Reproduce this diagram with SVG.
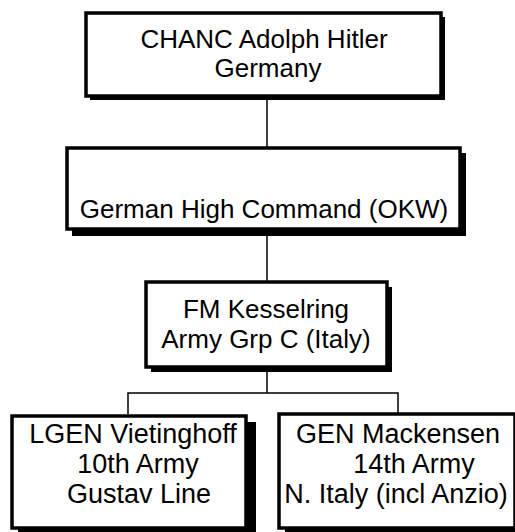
<svg xmlns="http://www.w3.org/2000/svg" width="515" height="532" viewBox="0 0 515 532">
<style>
.sh{fill:#000}
.bx{fill:#fff;stroke:#000;stroke-width:3.5}
.t{font-family:"Liberation Sans",Arial,sans-serif;font-size:26px;fill:#000;text-anchor:middle}
.c{stroke:#000;stroke-width:1.5;fill:none}
</style>
<rect width="515" height="532" fill="#fff"/>
<g id="connectors">
<line class="c" x1="267" y1="98" x2="267" y2="148"/>
<line class="c" x1="267" y1="234" x2="267" y2="282"/>
<line class="c" x1="267" y1="370" x2="267" y2="393"/>
<polyline class="c" points="128,414 128,393 398,393 398,414"/>
</g>
<g id="n1">
<rect class="sh" x="90" y="17" width="355" height="83"/>
<rect class="bx" x="86" y="13" width="355" height="83"/>
<text class="t" x="264" y="48">CHANC Adolph Hitler</text>
<text class="t" x="268" y="77">Germany</text>
</g>
<g id="n2">
<rect class="sh" x="72" y="153" width="394" height="83"/>
<rect class="bx" x="67" y="148" width="393" height="81"/>
<text class="t" x="264" y="218">German High Command (OKW)</text>
</g>
<g id="n3">
<rect class="sh" x="151" y="287" width="241" height="85"/>
<rect class="bx" x="146" y="282" width="241" height="85"/>
<text class="t" x="266" y="318">FM Kesselring</text>
<text class="t" x="266" y="348">Army Grp C (Italy)</text>
</g>
<g id="n4">
<rect class="sh" x="18" y="422" width="238" height="112"/>
<rect class="bx" x="12" y="416" width="234" height="112"/>
<text class="t" x="133" y="443" style="font-size:27px">LGEN Vietinghoff</text>
<text class="t" x="138" y="473" style="font-size:27px">10th Army</text>
<text class="t" x="139" y="503" style="font-size:27px">Gustav Line</text>
</g>
<g id="n5">
<rect class="sh" x="285" y="420" width="236" height="114"/>
<rect class="bx" x="279" y="414" width="236" height="114"/>
<text class="t" x="398" y="443" style="font-size:27px">GEN Mackensen</text>
<text class="t" x="414" y="473" style="font-size:27px">14th Army</text>
<text class="t" x="396" y="503" style="font-size:27px">N. Italy (incl Anzio)</text>
</g>
</svg>
